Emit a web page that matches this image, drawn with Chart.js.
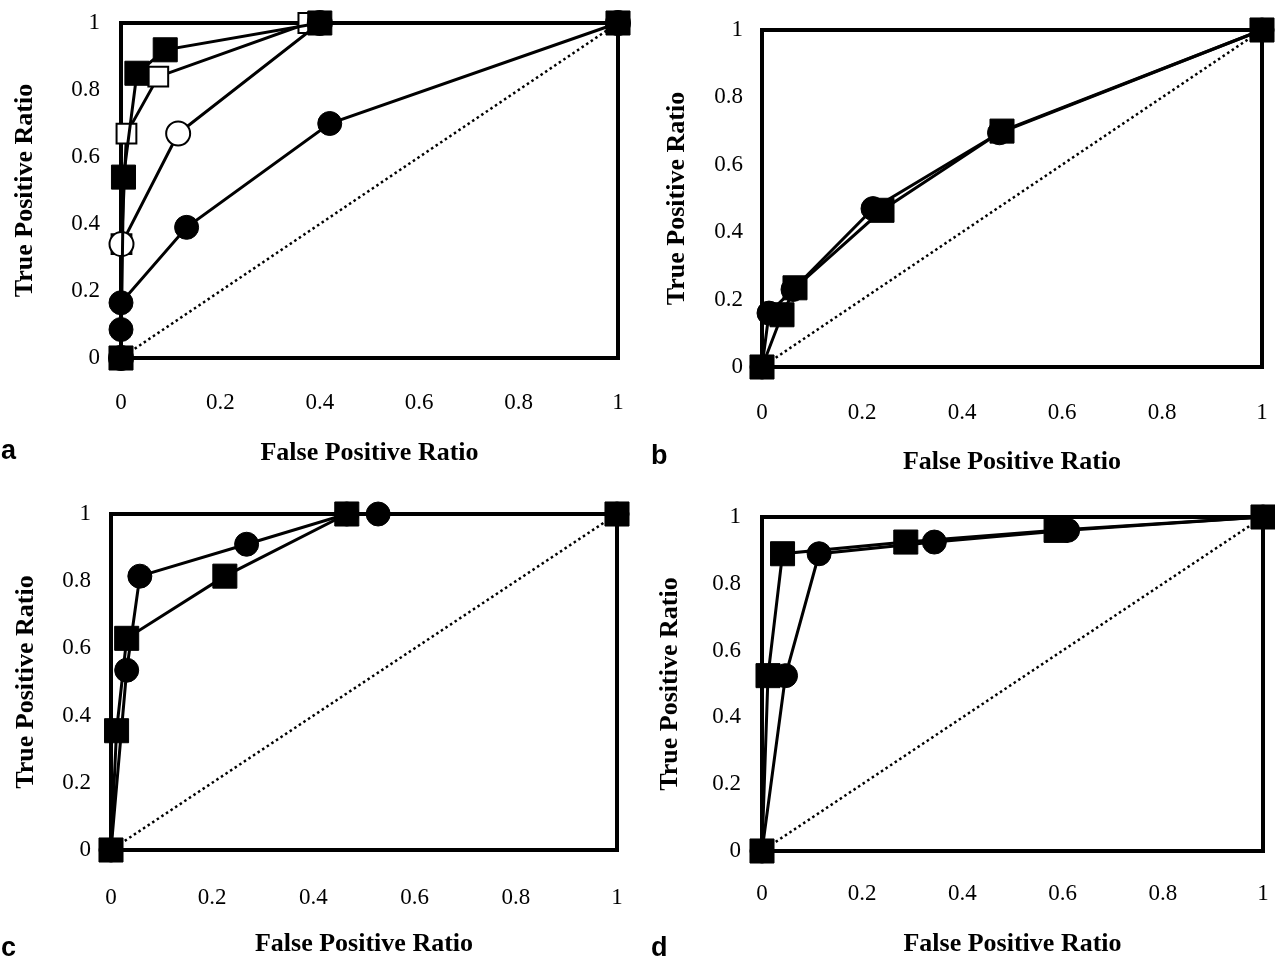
<!DOCTYPE html>
<html>
<head>
<meta charset="utf-8">
<script src="https://cdn.jsdelivr.net/npm/chart.js@4.4.1/dist/chart.umd.min.js"></script>
<style>
  body { margin: 0; background: #fff; }
  #wrap { position: relative; width: 1275px; height: 960px; overflow: hidden; }
  canvas { position: absolute; }
  .letter { position: absolute; font: bold 27px "Liberation Sans", Arial, sans-serif; line-height: 1; color: #000; }
</style>
</head>
<body>
<div id="wrap">
  <canvas id="chartA" width="640" height="480" style="left:0;top:0"></canvas>
  <canvas id="chartB" width="635" height="480" style="left:640px;top:0"></canvas>
  <canvas id="chartC" width="640" height="480" style="left:0;top:480px"></canvas>
  <canvas id="chartD" width="635" height="480" style="left:640px;top:480px"></canvas>
  <div class="letter" style="left:1px;top:437px">a</div>
  <div class="letter" style="left:651px;top:442px">b</div>
  <div class="letter" style="left:1px;top:934px">c</div>
  <div class="letter" style="left:651px;top:934px">d</div>
</div>
<script>
const tickValues = [0, 0.2, 0.4, 0.6, 0.8, 1];
const tickLabels = ["0", "0.2", "0.4", "0.6", "0.8", "1"];
const xTitle = "False Positive Ratio";
const yTitle = "True Positive Ratio";

// chance line
const chanceX = [0, 1];
const chanceY = [0, 1];

// panel a
const aSolidSqX = [0, 0.005, 0.032, 0.089, 0.40, 1];
const aSolidSqY = [0, 0.54, 0.85, 0.92, 1, 1];
const aOpenSqX = [0, 0.001, 0.011, 0.075, 0.377, 1];
const aOpenSqY = [0, 0.34, 0.67, 0.84, 1, 1];
const aOpenCircX = [0, 0.001, 0.115, 0.40, 1];
const aOpenCircY = [0, 0.34, 0.67, 1, 1];
const aSolidCircX = [0, 0, 0, 0.132, 0.42, 1];
const aSolidCircY = [0, 0.085, 0.165, 0.39, 0.70, 1];

// panel b
const bSqX = [0, 0.04, 0.066, 0.24, 0.48, 1];
const bSqY = [0, 0.155, 0.235, 0.465, 0.70, 1];
const bCircX = [0, 0.014, 0.062, 0.222, 0.475, 1];
const bCircY = [0, 0.16, 0.23, 0.47, 0.695, 1];

// panel c
const cSqX = [0, 0.011, 0.031, 0.225, 0.466, 1];
const cSqY = [0, 0.355, 0.63, 0.815, 1, 1];
const cCircX = [0, 0.031, 0.057, 0.268, 0.466, 0.528, 1];
const cCircY = [0, 0.535, 0.815, 0.91, 1, 1, 1];

// panel d
const dSqX = [0, 0.012, 0.041, 0.287, 0.587, 1];
const dSqY = [0, 0.525, 0.89, 0.925, 0.96, 1];
const dCircX = [0, 0.047, 0.114, 0.344, 0.61, 1];
const dCircY = [0, 0.525, 0.89, 0.925, 0.96, 1];

function zip(xs, ys) {
  return xs.map((x, i) => ({ x: x, y: ys[i] }));
}

function series(xs, ys, style, open) {
  const isRect = style === "rect";
  return {
    data: zip(xs, ys),
    showLine: true,
    borderColor: "#000",
    borderWidth: 3,
    pointStyle: style,
    pointRadius: isRect ? (open ? 14 : 17) : 12,
    pointBackgroundColor: open ? "#fff" : "#000",
    pointBorderColor: "#000",
    pointBorderWidth: open ? 2 : 1,
    clip: false
  };
}

function chanceLine() {
  return {
    data: zip(chanceX, chanceY),
    showLine: true,
    borderColor: "#000",
    borderWidth: 2.5,
    borderDash: [2.5, 3],
    pointRadius: 0,
    clip: false
  };
}

const framePlugin = {
  id: "frame",
  beforeDatasetsDraw(chart) {
    const a = chart.chartArea;
    const ctx = chart.ctx;
    ctx.save();
    ctx.strokeStyle = "#000";
    ctx.lineWidth = 4;
    ctx.strokeRect(a.left, a.top, a.right - a.left, a.bottom - a.top);
    ctx.restore();
  }
};

function makePanel(id, datasets, lay) {
  const ctx = document.getElementById(id).getContext("2d");
  return new Chart(ctx, {
    type: "scatter",
    data: { datasets: datasets },
    plugins: [framePlugin],
    options: {
      responsive: false,
      animation: false,
      devicePixelRatio: 1,
      layout: {
        autoPadding: false,
        padding: { top: lay.top, right: lay.right, left: 0, bottom: 0 }
      },
      plugins: { legend: { display: false }, tooltip: { enabled: false } },
      scales: {
        x: {
          type: "linear",
          min: 0,
          max: 1,
          grid: { display: false, drawTicks: false },
          border: { display: false },
          afterBuildTicks: s => { s.ticks = tickValues.map(v => ({ value: v })); },
          afterFit: s => {
            s.height = lay.xh;
            s.paddingLeft = 0;
            s.paddingRight = 0;
          },
          ticks: {
            padding: lay.xtp,
            maxRotation: 0,
            color: "#000",
            font: { family: "Liberation Serif", size: 23 },
            callback: (v, i) => tickLabels[i]
          },
          title: {
            display: true,
            text: xTitle,
            color: "#000",
            padding: { top: 0, bottom: lay.xtb },
            font: { family: "Liberation Serif", size: 26, weight: "bold" }
          }
        },
        y: {
          type: "linear",
          min: 0,
          max: 1,
          grid: { display: false, drawTicks: false },
          border: { display: false },
          afterBuildTicks: s => { s.ticks = tickValues.map(v => ({ value: v })); },
          afterFit: s => {
            s.width = lay.yw;
            s.paddingTop = 0;
            s.paddingBottom = 0;
          },
          ticks: {
            padding: lay.ytp,
            color: "#000",
            font: { family: "Liberation Serif", size: 23 },
            callback: (v, i) => tickLabels[i]
          },
          title: {
            display: true,
            text: yTitle,
            color: "#000",
            padding: { top: lay.ytt, bottom: 0 },
            font: { family: "Liberation Serif", size: 26, weight: "bold" }
          }
        }
      }
    }
  });
}

makePanel("chartA", [
  series(aSolidSqX, aSolidSqY, "rect", false),
  series(aSolidCircX, aSolidCircY, "circle", false),
  series(aOpenCircX, aOpenCircY, "circle", true),
  series(aOpenSqX, aOpenSqY, "rect", true),
  chanceLine()
], { top: 23, right: 22, xh: 122, yw: 121, xtp: 31, xtb: 11, ytp: 21, ytt: 10 });

makePanel("chartB", [
  series(bSqX, bSqY, "rect", false),
  series(bCircX, bCircY, "circle", false),
  chanceLine()
], { top: 30, right: 13, xh: 113, yw: 122, xtp: 32, xtb: 2, ytp: 19, ytt: 22 });

makePanel("chartC", [
  series(cSqX, cSqY, "rect", false),
  series(cCircX, cCircY, "circle", false),
  chanceLine()
], { top: 34, right: 23, xh: 110, yw: 111, xtp: 34, xtb: 0, ytp: 20, ytt: 11 });

makePanel("chartD", [
  series(dSqX, dSqY, "rect", false),
  series(dCircX, dCircY, "circle", false),
  chanceLine()
], { top: 37, right: 12, xh: 109, yw: 122, xtp: 29, xtb: 0, ytp: 21, ytt: 15 });
</script>
</body>
</html>
